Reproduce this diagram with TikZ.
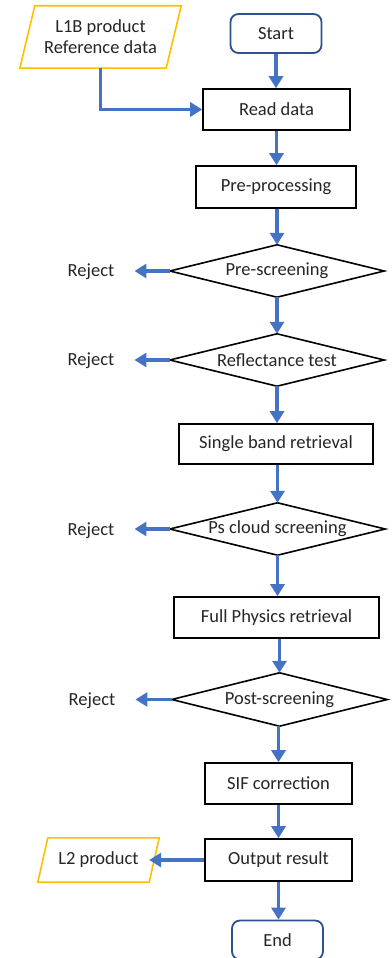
\documentclass[tikz,border=0pt]{standalone}
\usepackage{fontspec}
\setmainfont{Carlito}
\usetikzlibrary{arrows.meta,calc}
\definecolor{arrblue}{HTML}{4472C4}
\definecolor{termblue}{HTML}{2F528F}
\definecolor{iogold}{HTML}{FFC000}
\definecolor{txt}{HTML}{262626}
\begin{document}
\begin{tikzpicture}[x=1pt,y=-1pt,
  every node/.style={font=\fontsize{18.5}{21}\selectfont, text=txt, inner sep=0pt},
  procbox/.style={draw=black, line width=1.6pt, fill=white, minimum height=41pt},
  termbox/.style={draw=termblue, line width=1.8pt, rounded corners=8pt, fill=white, minimum width=91pt, minimum height=39pt},
  decbox/.style={minimum width=214pt, minimum height=52pt},
  iobox/.style={align=center},
  flow/.style={draw=arrblue, line width=3.8pt, -{Triangle[length=12pt,width=14pt]}},
  decline/.style={draw=black, line width=1.6pt, fill=white},
  ioline/.style={draw=iogold, line width=1.6pt, fill=white, line join=miter}
]
\useasboundingbox (0,0) rectangle (391,958);

% Input parallelogram
\node[minimum width=146pt, minimum height=62pt] (l1b) at (100.5,37) {};
\path[ioline] ([xshift=7.5pt]l1b.north west) -- ([xshift=7.5pt]l1b.north east) -- ([xshift=-7.5pt]l1b.south east) -- ([xshift=-7.5pt]l1b.south west) -- cycle;
\node[iobox] at (l1b) {L1B product\\[0pt]Reference data};

\node[termbox] (start) at (276,33.5) {Start};
\node[procbox, minimum width=147pt] (read) at (276.5,109.5) {Read data};
\node[procbox, minimum width=160pt, minimum height=42pt] (prep) at (276,187) {Pre-processing};

\node[decbox] (presc) at (277,271) {};
\path[decline] (presc.west) -- (presc.north) -- (presc.east) -- (presc.south) -- cycle;
\node at (presc) {Pre-screening};

\node[decbox] (refl) at (277,360) {};
\path[decline] (refl.west) -- (refl.north) -- (refl.east) -- (refl.south) -- cycle;
\node at (refl) {Reflectance test};

\node[procbox, minimum width=194pt, minimum height=40pt] (single) at (276,444) {Single band retrieval};

\node[decbox, minimum width=215pt] (ps) at (277.5,529) {};
\path[decline] (ps.west) -- (ps.north) -- (ps.east) -- (ps.south) -- cycle;
\node at (ps) {Ps cloud screening};

\node[procbox, minimum width=205pt] (full) at (276.5,617.5) {Full Physics retrieval};

\node[decbox, minimum width=215pt, minimum height=53pt] (post) at (279.5,699.5) {};
\path[decline] (post.west) -- (post.north) -- (post.east) -- (post.south) -- cycle;
\node at (post) {Post-screening};

\node[procbox, minimum width=147pt] (sif) at (278.5,783.5) {SIF correction};
\node[procbox, minimum width=147pt, minimum height=42pt] (out) at (278.5,860) {Output result};

\node[minimum width=111pt, minimum height=44pt] (l2) at (98.5,860) {};
\path[ioline] ([xshift=5pt]l2.north west) -- ([xshift=5pt]l2.north east) -- ([xshift=-5pt]l2.south east) -- ([xshift=-5pt]l2.south west) -- cycle;
\node at (l2) {L2 product};

\node[termbox] (end) at (277.5,940) {End};

% Reject labels
\node (rej1) at (91,272) {Reject};
\node (rej2) at (91,361) {Reject};
\node (rej3) at (91,531) {Reject};
\node (rej4) at (92,701) {Reject};

% Flow arrows
\draw[flow] (start.south) -- (read.north -| start.south);
\draw[flow] (l1b.south) |- (read.west);
\draw[flow] (read.south) -- (read.south |- prep.north);
\draw[flow] (prep.south -| presc.north) -- (presc.north);
\draw[flow] (presc.south) -- (refl.north);
\draw[flow] (refl.south) -- (refl.south |- single.north);
\draw[flow] (single.south -| ps.north) -- (ps.north);
\draw[flow] (ps.south) -- (ps.south |- full.north);
\draw[flow] (full.south -| post.north) -- (post.north);
\draw[flow] (post.south -| sif.north) -- (sif.north);
\draw[flow] (sif.south) -- (out.north);
\draw[flow] (out.south) -- (out.south |- end.north);
\draw[flow] (out.west) -- ([xshift=-5pt]l2.east);

\draw[flow] (presc.west) -- ([xshift=20pt]rej1.east |- presc.west);
\draw[flow] (refl.west) -- ([xshift=20pt]rej2.east |- refl.west);
\draw[flow] (ps.west) -- ([xshift=20pt]rej3.east |- ps.west);
\draw[flow] (post.west) -- ([xshift=20pt]rej4.east |- post.west);
\end{tikzpicture}
\end{document}
